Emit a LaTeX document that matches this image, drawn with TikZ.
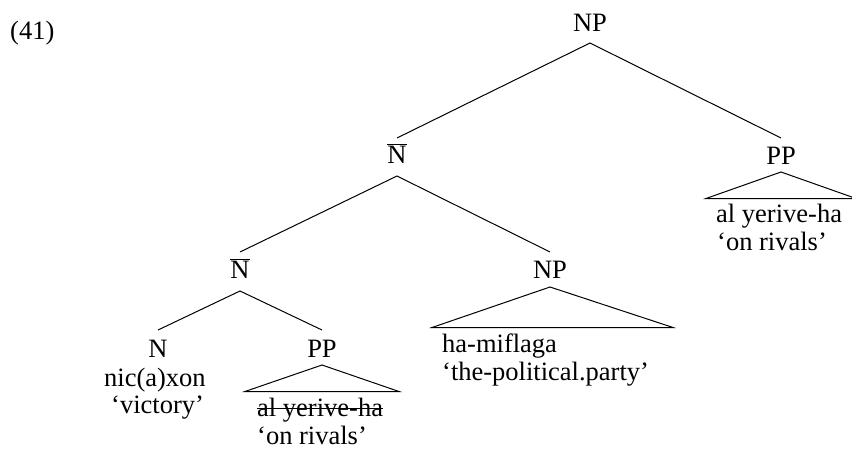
\documentclass[tikz,border=0pt]{standalone}
\usepackage{fontspec}
\setmainfont{Liberation Serif}
\begin{document}
\begin{tikzpicture}[x=1pt,y=-1pt,
  lab/.style={inner sep=0pt, anchor=base, font=\fontsize{26.5}{30}\selectfont},
  leaf/.style={inner sep=0pt, anchor=base west, font=\fontsize{26.5}{30}\selectfont},
  edge/.style={line width=1pt},
  tri/.style={line width=1pt, line join=miter}]
\useasboundingbox (0,0) rectangle (852,453);
% example number
\node[leaf] (ex) at (10,39) {(41)};
% labels
\node[lab] (np1) at (590,31) {NP};
\node[lab] (nb1) at (397,163) {$\overline{\hbox{N}}$};
\node[lab] (pp1) at (781,164) {PP};
\node[lab] (nb2) at (240,278) {$\overline{\hbox{N}}$};
\node[lab] (np2) at (550,278) {NP};
\node[lab] (n)   at (158,357) {N};
\node[lab] (pp2) at (322,357) {PP};
% leaves
\node[leaf] (w1) at (104,386) {nic(a)xon};
\node[leaf] (g1) at (111,413) {`victory'};
\node[leaf] (w2) at (257,416) {al yerive-ha};
\node[leaf] (g2) at (257,444) {`on rivals'};
\node[leaf] (w3) at (442,352) {ha-miflaga};
\node[leaf] (g3) at (442,380) {`the-political.party'};
\node[leaf] (w4) at (716,222) {al yerive-ha};
\node[leaf] (g4) at (717,250) {`on rivals'};
% strike-through
\draw[edge] ([yshift=8pt]w2.base west) -- ([yshift=8pt]w2.base east);
% edge coordinates
\coordinate (np1b) at (590,43);
\coordinate (nb1t) at (397,138);
\coordinate (pp1t) at (781,138);
\coordinate (nb1b) at (397,176);
\coordinate (nb2t) at (240,252);
\coordinate (np2t) at (550,252);
\coordinate (nb2b) at (240,291);
\coordinate (nt)   at (158,330);
\coordinate (pp2t) at (322,330);
\draw[edge] (nb1t) -- (np1b) -- (pp1t);
\draw[edge] (nb2t) -- (nb1b) -- (np2t);
\draw[edge] (nt) -- (nb2b) -- (pp2t);
% triangles
\coordinate (t1a) at (322,365); \coordinate (t1l) at (245,391.5); \coordinate (t1r) at (399,391.5);
\coordinate (t2a) at (550,287); \coordinate (t2l) at (432,327.5); \coordinate (t2r) at (673,327.5);
\coordinate (t3a) at (781,172); \coordinate (t3l) at (706,198.5); \coordinate (t3r) at (856,198.5);
\draw[tri] (t1a) -- (t1l) -- (t1r) -- cycle;
\draw[tri] (t2a) -- (t2l) -- (t2r) -- cycle;
\draw[tri] (t3a) -- (t3l) -- (t3r) -- cycle;
\end{tikzpicture}
\end{document}
